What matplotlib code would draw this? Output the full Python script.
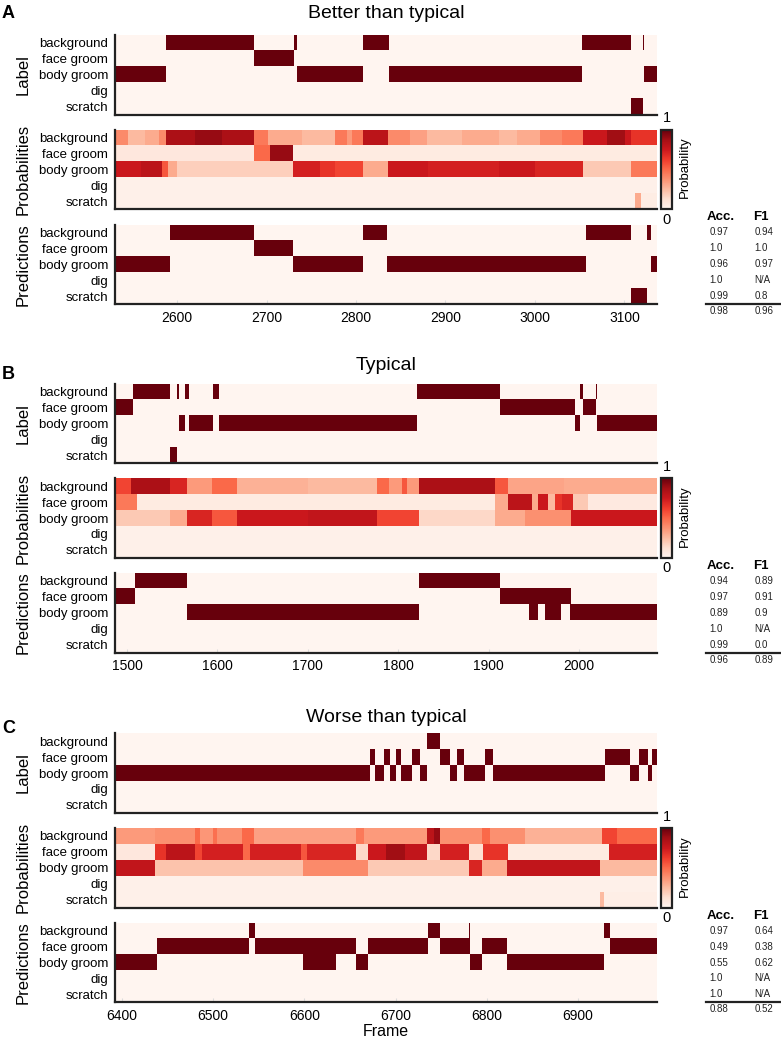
import numpy as np
import matplotlib.pyplot as plt
from matplotlib.transforms import blended_transform_factory
from matplotlib.lines import Line2D

plt.rcParams['font.family'] = ['Liberation Sans', 'DejaVu Sans']

# ---------------- DATA ----------------
BEHAVIORS = ["background", "face groom", "body groom", "dig", "scratch"]
PANEL_TITLES = ["Better than typical", "Typical", "Worse than typical"]
PANEL_LETTERS = ["A", "B", "C"]
ROW_NAMES = ["Label", "Probabilities", "Predictions"]

# first / last frame shown in each panel
FRAMES_A = (2531, 3136)
FRAMES_B = (1487, 2086)
FRAMES_C = (6393, 6986)

TICKS_A = [2600, 2700, 2800, 2900, 3000, 3100]
TICKS_B = [1500, 1600, 1700, 1800, 1900, 2000]
TICKS_C = [6400, 6500, 6600, 6700, 6800, 6900]

# (behaviour index, start frame, end frame)
LABEL_A = [(2, 2531, 2588), (0, 2588, 2686), (1, 2686, 2731), (0, 2731, 2734),
           (2, 2734, 2808), (0, 2808, 2837), (2, 2837, 3052), (0, 3052, 3107),
           (4, 3107, 3120), (0, 3120, 3122), (2, 3122, 3136)]
PRED_A = [(2, 2531, 2592), (0, 2592, 2686), (1, 2686, 2730), (2, 2730, 2808),
          (0, 2808, 2835), (2, 2835, 3057), (0, 3057, 3107), (4, 3107, 3125),
          (0, 3125, 3129), (2, 3129, 3136)]

LABEL_B = [(1, 1487, 1507), (0, 1507, 1548), (4, 1548, 1556), (0, 1556, 1558),
           (2, 1558, 1564), (0, 1564, 1569), (2, 1569, 1595), (0, 1595, 1602),
           (2, 1602, 1821), (0, 1821, 1912), (1, 1912, 1995), (2, 1995, 2001),
           (0, 2001, 2004), (1, 2004, 2019), (0, 2019, 2020), (2, 2020, 2086)]
PRED_B = [(1, 1487, 1509), (0, 1509, 1567), (2, 1567, 1823), (0, 1823, 1912),
          (1, 1912, 1991), (2, 1945, 1955), (2, 1962, 1980), (2, 1990, 2086)]

LABEL_C = [(2, 6393, 6672), (1, 6672, 6677), (2, 6677, 6687), (1, 6687, 6694),
           (2, 6694, 6700), (1, 6700, 6706), (2, 6706, 6718), (1, 6718, 6727),
           (2, 6727, 6734), (0, 6734, 6749), (1, 6749, 6760), (2, 6760, 6767),
           (1, 6767, 6775), (2, 6775, 6798), (1, 6798, 6807), (2, 6807, 6929),
           (1, 6929, 6956), (2, 6956, 6966), (1, 6966, 6976), (2, 6976, 6981),
           (1, 6981, 6986)]
PRED_C = [(2, 6393, 6439), (1, 6439, 6540), (0, 6540, 6546), (1, 6546, 6657),
          (2, 6599, 6635), (2, 6657, 6670), (1, 6670, 6735), (0, 6735, 6749),
          (1, 6749, 6781), (0, 6780, 6781), (2, 6781, 6795), (1, 6795, 6822),
          (2, 6822, 6928), (0, 6928, 6935), (1, 6935, 6986)]

# probability levels per behaviour: (start frame, end frame, probability)
PROB_A = [
    [(2531, 2545, 0.4), (2545, 2565, 0.25), (2565, 2580, 0.3), (2580, 2588, 0.4),
     (2588, 2620, 0.85), (2620, 2650, 0.9), (2650, 2686, 0.85), (2686, 2702, 0.45),
     (2702, 2740, 0.3), (2740, 2777, 0.25), (2777, 2790, 0.45), (2790, 2796, 0.35),
     (2796, 2808, 0.45), (2808, 2836, 0.8), (2836, 2860, 0.4), (2860, 2879, 0.33),
     (2879, 2918, 0.25), (2918, 2960, 0.3), (2960, 2980, 0.25), (2980, 3005, 0.3),
     (3005, 3030, 0.4), (3030, 3053, 0.45), (3053, 3080, 0.75), (3080, 3100, 0.88),
     (3100, 3107, 0.75), (3107, 3136, 0.65)],
    [(2531, 2686, 0.08), (2686, 2704, 0.5), (2704, 2730, 0.9), (2730, 3136, 0.06)],
    [(2531, 2560, 0.75), (2560, 2584, 0.8), (2584, 2590, 0.55), (2590, 2600, 0.3),
     (2600, 2730, 0.18), (2730, 2760, 0.72), (2760, 2777, 0.65), (2777, 2808, 0.6),
     (2808, 2836, 0.3), (2836, 2880, 0.75), (2880, 2960, 0.72), (2960, 3000, 0.75),
     (3000, 3053, 0.7), (3053, 3107, 0.2), (3107, 3136, 0.45)],
    [(2531, 3136, 0.03)],
    [(2531, 3112, 0.03), (3112, 3118, 0.3), (3118, 3136, 0.05)],
]
PROB_B = [
    [(1487, 1505, 0.6), (1505, 1548, 0.85), (1548, 1567, 0.7), (1567, 1594, 0.35),
     (1594, 1622, 0.5), (1622, 1700, 0.28), (1700, 1777, 0.25), (1777, 1790, 0.5),
     (1790, 1804, 0.35), (1804, 1810, 0.55), (1810, 1823, 0.35), (1823, 1907, 0.85),
     (1907, 1921, 0.55), (1921, 1983, 0.32), (1983, 2086, 0.3)],
    [(1487, 1511, 0.45), (1511, 1907, 0.06), (1907, 1921, 0.3), (1921, 1948, 0.8),
     (1948, 1954, 0.3), (1954, 1965, 0.75), (1965, 1973, 0.25), (1973, 1981, 0.65),
     (1981, 1993, 0.7), (1993, 2010, 0.2), (2010, 2086, 0.07)],
    [(1487, 1548, 0.2), (1548, 1567, 0.3), (1567, 1594, 0.7), (1594, 1622, 0.55),
     (1622, 1700, 0.75), (1700, 1777, 0.78), (1777, 1823, 0.6), (1823, 1907, 0.15),
     (1907, 1940, 0.3), (1940, 1991, 0.38), (1991, 2086, 0.75)],
    [(1487, 2086, 0.03)],
    [(1487, 2086, 0.03)],
]
PROB_C = [
    [(6393, 6437, 0.35), (6437, 6480, 0.38), (6480, 6486, 0.5), (6486, 6500, 0.36),
     (6500, 6505, 0.48), (6505, 6532, 0.38), (6532, 6545, 0.5), (6545, 6657, 0.33),
     (6657, 6665, 0.45), (6665, 6734, 0.35), (6734, 6742, 0.8), (6742, 6749, 0.9),
     (6749, 6795, 0.38), (6795, 6803, 0.5), (6803, 6842, 0.38), (6842, 6926, 0.28),
     (6926, 6942, 0.6), (6942, 6986, 0.5)],
    [(6393, 6437, 0.08), (6437, 6449, 0.65), (6449, 6480, 0.8), (6480, 6488, 0.6),
     (6488, 6533, 0.72), (6533, 6541, 0.5), (6541, 6597, 0.72), (6597, 6603, 0.55),
     (6603, 6657, 0.7), (6657, 6670, 0.15), (6670, 6690, 0.75), (6690, 6710, 0.88),
     (6710, 6734, 0.78), (6734, 6749, 0.15), (6749, 6780, 0.72), (6780, 6796, 0.12),
     (6796, 6823, 0.65), (6823, 6934, 0.06), (6934, 6986, 0.72)],
    [(6393, 6437, 0.78), (6437, 6599, 0.22), (6599, 6670, 0.4), (6670, 6780, 0.2),
     (6780, 6794, 0.7), (6794, 6822, 0.3), (6822, 6924, 0.78), (6924, 6986, 0.25)],
    [(6393, 6986, 0.03)],
    [(6393, 6924, 0.03), (6924, 6928, 0.25), (6928, 6986, 0.04)],
]

ACC_A = ["0.97", "1.0", "0.96", "1.0", "0.99"]
F1_A = ["0.94", "1.0", "0.97", "N/A", "0.8"]
TOTAL_A = ["0.98", "0.96"]
ACC_B = ["0.94", "0.97", "0.89", "1.0", "0.99"]
F1_B = ["0.89", "0.91", "0.9", "N/A", "0.0"]
TOTAL_B = ["0.96", "0.89"]
ACC_C = ["0.97", "0.49", "0.55", "1.0", "1.0"]
F1_C = ["0.64", "0.38", "0.62", "N/A", "N/A"]
TOTAL_C = ["0.88", "0.52"]

# ---------------- HELPERS ----------------
W, H = 781, 1044
fig = plt.figure(figsize=(W / 100, H / 100), dpi=100)


def px_axes(left, top, right, bottom):
    return fig.add_axes([left / W, 1 - bottom / H, (right - left) / W, (bottom - top) / H])


def binary_matrix(segments, frames):
    f0, f1 = frames
    m = np.zeros((len(BEHAVIORS), f1 - f0))
    for idx, start, end in segments:
        m[idx, start - f0:end - f0] = 1.0
    return m


def prob_matrix(rows, frames):
    f0, f1 = frames
    m = np.zeros((len(BEHAVIORS), f1 - f0))
    for idx, segs in enumerate(rows):
        for start, end, val in segs:
            m[idx, start - f0:end - f0] = val
    return m


def style_axes(ax, frames, ticks, show_x):
    for side in ("top", "right"):
        ax.spines[side].set_visible(False)
    for side in ("left", "bottom"):
        ax.spines[side].set_linewidth(1.6)
        ax.spines[side].set_color("#222222")
    ax.set_yticks(range(len(BEHAVIORS)))
    ax.set_yticklabels(BEHAVIORS, fontsize=9.5)
    ax.tick_params(axis="y", length=0, pad=5)
    ax.set_xlim(frames[0], frames[1])
    if show_x:
        ax.set_xticks(ticks)
        ax.tick_params(axis="x", direction="in", length=3, color="#dddddd",
                       labelsize=10, pad=5)
    else:
        ax.set_xticks([])


# ---------------- DRAW ----------------
LEFT, RIGHT = 115.3, 656.6
BLOCK_H = 79.5
PANEL_TOPS = [35, 383.5, 733.3]
TITLE_BASE = [18.3, 369.5, 721.7]
LETTER_BASE = [18.3, 379.3, 732.7]

panels = [
    (FRAMES_A, TICKS_A, LABEL_A, PROB_A, PRED_A, ACC_A, F1_A, TOTAL_A),
    (FRAMES_B, TICKS_B, LABEL_B, PROB_B, PRED_B, ACC_B, F1_B, TOTAL_B),
    (FRAMES_C, TICKS_C, LABEL_C, PROB_C, PRED_C, ACC_C, F1_C, TOTAL_C),
]

for p, (frames, ticks, lab, prob, pred, acc, f1, total) in enumerate(panels):
    top = PANEL_TOPS[p]
    mats = [binary_matrix(lab, frames), prob_matrix(prob, frames),
            binary_matrix(pred, frames)]
    axes = []
    for r, mat in enumerate(mats):
        t = top + r * 94.75
        ax = px_axes(LEFT, t, RIGHT, t + BLOCK_H)
        im = ax.imshow(mat, cmap="Reds", vmin=0, vmax=1, aspect="auto",
                       interpolation="nearest",
                       extent=(frames[0], frames[1], len(BEHAVIORS) - 0.5, -0.5))
        style_axes(ax, frames, ticks, show_x=(r == 2))
        fig.text(23.5 / W, 1 - (t + BLOCK_H / 2) / H, ROW_NAMES[r], rotation=90,
                 ha="center", va="center", fontsize=12)
        axes.append((ax, im, t))

    # colorbar next to probabilities
    ax_prob, im_prob, t_prob = axes[1]
    cax = px_axes(661, t_prob, 672.3, t_prob + BLOCK_H)
    cb = fig.colorbar(im_prob, cax=cax, ticks=[])
    cb.outline.set_linewidth(1.6)
    cb.outline.set_edgecolor("#222222")
    fig.text(666.6 / W, 1 - (t_prob - 11.3) / H, "1", ha="center", va="center", fontsize=10.5)
    fig.text(666.6 / W, 1 - (t_prob + BLOCK_H + 10.5) / H, "0", ha="center", va="center",
             fontsize=10.5)
    fig.text(684.5 / W, 1 - (t_prob + BLOCK_H / 2 - 2) / H, "Probability", rotation=90,
             ha="center", va="center", fontsize=9.5)

    # title and panel letter
    fig.text((LEFT + RIGHT) / 2 / W, 1 - TITLE_BASE[p] / H, PANEL_TITLES[p],
             ha="center", va="baseline", fontsize=14)
    fig.text(2 / W, 1 - LETTER_BASE[p] / H, PANEL_LETTERS[p], ha="left",
             va="baseline", fontsize=13, fontweight="bold")

    # metric table aligned with prediction rows
    ax_pred = axes[2][0]
    tr = blended_transform_factory(fig.transFigure, ax_pred.transData)
    fig.text(707 / W, -0.95, "Acc.", transform=tr, ha="left", va="center",
             fontsize=9.5, fontweight="bold")
    fig.text(753 / W, -0.95, "F1", transform=tr, ha="left", va="center",
             fontsize=9.5, fontweight="bold")
    for i in range(len(BEHAVIORS)):
        fig.text(709.5 / W, i, acc[i], transform=tr, ha="left", va="center",
                 fontsize=7, color="#222222")
        fig.text(754.5 / W, i, f1[i], transform=tr, ha="left", va="center",
                 fontsize=7, color="#222222")
    fig.add_artist(Line2D([705.7 / W, 780 / W], [4.5, 4.5], transform=tr,
                          color="#222222", linewidth=1.6, clip_on=False))
    fig.text(709.5 / W, 4.95, total[0], transform=tr, ha="left", va="center",
             fontsize=7, color="#222222")
    fig.text(754.5 / W, 4.95, total[1], transform=tr, ha="left", va="center",
             fontsize=7, color="#222222")

fig.text((LEFT + RIGHT) / 2 / W, 1 - 1031.7 / H, "Frame", ha="center", va="center",
         fontsize=11.5)

fig.savefig("out.png", dpi=100)
